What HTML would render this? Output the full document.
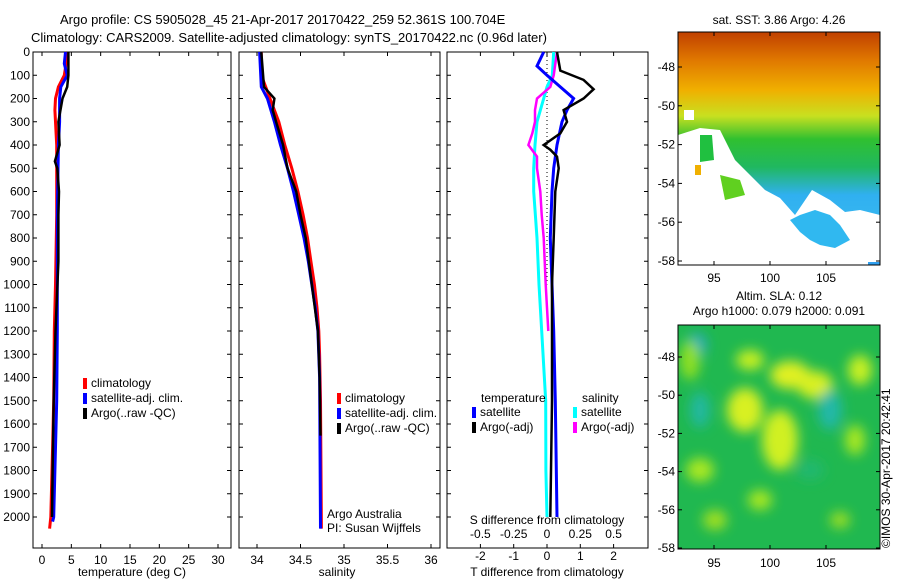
<!DOCTYPE html>
<html><head><meta charset="utf-8"><style>
body{margin:0;background:#fff}
svg{display:block;font-family:"Liberation Sans",sans-serif}
text{fill:#000}
</style></head><body>
<svg id="fig" width="900" height="580" viewBox="0 0 900 580">
<defs>
<linearGradient id="sstg" x1="0" y1="0" x2="0" y2="1">
<stop offset="0" stop-color="#c04000"/><stop offset="0.12" stop-color="#e07800"/><stop offset="0.25" stop-color="#f0b000"/>
<stop offset="0.36" stop-color="#c8e020"/><stop offset="0.46" stop-color="#30c030"/><stop offset="0.58" stop-color="#20b860"/>
<stop offset="0.7" stop-color="#30b0f0"/><stop offset="1" stop-color="#40c0f0"/></linearGradient>
<filter id="blur"><feGaussianBlur stdDeviation="6"/></filter>
<clipPath id="m2clip"><rect x="678" y="325" width="202" height="224"/></clipPath>
</defs>
<text x="60" y="24" font-size="13">Argo profile: CS 5905028_45 21-Apr-2017 20170422_259 52.361S 100.704E</text>
<text x="31" y="42" font-size="13">Climatology: CARS2009. Satellite-adjusted climatology: synTS_20170422.nc (0.96d later)</text>
<g id="p1"></g>
<g id="p2"></g>
<g id="p3"></g>
<g>
<text x="779" y="24" font-size="12" text-anchor="middle">sat. SST: 3.86 Argo: 4.26</text>
<rect x="678" y="32" width="202" height="233" fill="url(#sstg)"/>
<path d="M678 135 L700 128 L720 130 L735 160 L750 175 L765 190 L780 198 L795 215 L812 190 L830 200 L845 212 L860 210 L880 215 L880 265 L678 265 Z" fill="#fff"/>
<path d="M790 220 L800 215 L815 210 L830 215 L840 225 L850 240 L835 248 L820 245 L810 240 L800 232 Z" fill="#30b8f0"/>
<path d="M700 135 L712 135 L714 160 L700 162 Z" fill="#20c040"/>
<path d="M720 175 L740 180 L745 195 L725 200 Z" fill="#60d020"/>
<rect x="695" y="165" width="6" height="10" fill="#f0b000"/>
<rect x="684" y="110" width="10" height="10" fill="#fff"/>
<rect x="868" y="262" width="12" height="3" fill="#30a0f0"/>
</g>
<g>
<text x="779" y="300" font-size="12" text-anchor="middle">Altim. SLA: 0.12</text>
<text x="779" y="315" font-size="12" text-anchor="middle">Argo h1000: 0.079 h2000: 0.091</text>
<rect x="678" y="325" width="202" height="224" fill="#20b850"/>
<g clip-path="url(#m2clip)" filter="url(#blur)">
<ellipse cx="745" cy="410" rx="18" ry="22" fill="#d8f020"/><ellipse cx="790" cy="375" rx="20" ry="14" fill="#e0f020"/>
<ellipse cx="815" cy="385" rx="18" ry="14" fill="#d8f020"/><ellipse cx="780" cy="440" rx="18" ry="30" fill="#d0f020"/>
<ellipse cx="697" cy="345" rx="10" ry="12" fill="#20a8c0"/><ellipse cx="700" cy="410" rx="10" ry="18" fill="#20b8a0"/>
<ellipse cx="830" cy="410" rx="12" ry="20" fill="#20b8a8"/><ellipse cx="750" cy="360" rx="14" ry="10" fill="#c8f020"/>
<ellipse cx="700" cy="470" rx="14" ry="12" fill="#a8e820"/><ellipse cx="760" cy="500" rx="12" ry="10" fill="#a8e820"/>
<ellipse cx="855" cy="440" rx="10" ry="15" fill="#a8e820"/><ellipse cx="810" cy="470" rx="14" ry="10" fill="#20b870"/>
<ellipse cx="690" cy="360" rx="10" ry="20" fill="#90e020"/><ellipse cx="860" cy="370" rx="12" ry="15" fill="#c8f020"/>
<ellipse cx="715" cy="520" rx="12" ry="10" fill="#a0e020"/><ellipse cx="840" cy="520" rx="10" ry="8" fill="#a0e020"/>
</g>
</g>
<text transform="translate(890,548) rotate(-90)" font-size="12">©IMOS 30-Apr-2017 20:42:41</text>
<g id="maxes"></g>
</svg>
<script>
var NS='http://www.w3.org/2000/svg';
var depthTicks=[0,100,200,300,400,500,600,700,800,900,1000,1100,1200,1300,1400,1500,1600,1700,1800,1900,2000];
var tDepth=[0,50,100,150,200,250,300,400,500,700,1000,1200,1500,1700,1900,2000,2050];
var tClim=[4.2,4.1,3.8,2.8,2.3,2.2,2.3,2.5,2.5,2.5,2.3,2.1,2.0,1.8,1.6,1.5,1.3];
var tSatDepth=[0,50,100,150,200,300,400,700,1000,1200,1500,1800,2000,2020];
var tSat=[4.0,3.8,4.3,3.2,3.0,3.0,2.8,2.6,2.6,2.6,2.5,2.2,2.0,1.8];
var tArgoDepth=[0,100,150,200,300,400,470,500,600,700,900,1200,1500,1800,2000];
var tArgo=[4.5,4.5,4.3,3.5,2.8,3.0,2.2,2.6,2.9,2.8,2.8,2.3,2.0,1.8,1.7];
var tTicks=[0,5,10,15,20,25,30];
var sDepth=[0,100,150,200,300,400,500,600,700,800,900,1000,1100,1200,1300,1500,2050];
var sClim=[34.05,34.05,34.1,34.15,34.25,34.32,34.4,34.47,34.53,34.58,34.62,34.66,34.69,34.71,34.72,34.73,34.74];
var sSatDepth=[0,150,200,300,400,500,600,700,800,900,1000,1100,1200,1400,2050];
var sSat=[34.03,34.05,34.12,34.2,34.27,34.35,34.42,34.48,34.54,34.59,34.63,34.67,34.7,34.72,34.73];
var sArgoDepth=[0,150,200,250,300,400,500,600,700,800,1000,1200,1400,1650];
var sArgo=[34.05,34.08,34.2,34.18,34.22,34.3,34.35,34.45,34.5,34.56,34.63,34.7,34.72,34.73];
var sTicks=[34,34.5,35,35.5,36];
var dTDepth=[0,60,100,150,200,250,300,400,500,600,800,1000,1200,1500,2000];
var dTSat=[-0.1,-0.3,0,0.4,0.8,0.6,0.45,0.3,0.2,0.15,0.1,0.15,0.2,0.25,0.3];
var dTArgoDepth=[0,80,120,160,200,250,300,350,400,420,450,500,600,800,1000,1200,1500,1800,2000];
var dTArgo=[0.3,0.4,1.1,1.4,1.1,0.5,0.6,0.4,-0.1,0.1,0.3,0.35,0.25,0.2,0.15,0.15,0.15,0.12,0.1];
var dSSatDepth=[0,100,150,200,300,400,500,600,800,1000,1200,1500,1800,2000];
var dSSat=[0.05,0.04,0,-0.025,-0.075,-0.09,-0.1,-0.1,-0.075,-0.06,-0.04,-0.01,-0.008,0];
var dSArgoDepth=[0,100,150,200,250,300,350,400,450,500,600,700,800,1000,1100,1200];
var dSArgo=[0.075,0.05,0.025,-0.075,-0.09,-0.09,-0.11,-0.14,-0.075,-0.075,-0.05,-0.04,-0.025,-0.01,0,0.01];
var dTTicks=[-2,-1,0,1,2];
var dSTicks=[-0.5,-0.25,0,0.25,0.5];
var dSTickLabels=['-0.5','-0.25','0','0.25','0.5'];
var latTicks=[-48,-50,-52,-54,-56,-58];
var lonTicks=[95,100,105];

var TOP=52,BOT=548;
function yD(d){return TOP+d*(517-52)/2000;}
function mk(tag,attrs,parent){var e=document.createElementNS(NS,tag);for(var k in attrs){e.setAttribute(k,attrs[k]);}parent.appendChild(e);return e;}
function txt(parent,x,y,s,anchor,size){var t=mk('text',{x:x,y:y,'font-size':size||12,'text-anchor':anchor||'middle'},parent);t.textContent=s;return t;}
function drawLine(parent,xs,ds,xf,color,w,name){
  var p='';var n=Math.min(xs.length,ds.length);
  for(var i=0;i<n;i++){p+=(i?'L':'M')+xf(xs[i]).toFixed(1)+' '+yD(ds[i]).toFixed(1);}
  var e=mk('path',{d:p,fill:'none',stroke:color,'stroke-width':w},parent);
  
  
}
function frame(g,x0,x1,withDepthLabels){
  mk('rect',{x:x0,y:TOP,width:x1-x0,height:BOT-TOP,fill:'none',stroke:'#000','stroke-width':1},g);
  depthTicks.forEach(function(d){var y=yD(d);mk('line',{x1:x0,x2:x0+4,y1:y,y2:y,stroke:'#000'},g);mk('line',{x1:x1,x2:x1-4,y1:y,y2:y,stroke:'#000'},g);
    if(withDepthLabels){var t=txt(g,x0-3,y+4,String(d),'end');}});
}
function legend(g,x,y,items){items.forEach(function(it,i){mk('rect',{x:x,y:y+i*15-9,width:4,height:11,fill:it[0]},g);var t=txt(g,x+8,y+i*15,it[1],'start');});}
function safe(f){try{f();}catch(e){console.log(e);}}
function xT(v){return 42+v*(218-42)/30;}
function xS(v){return 257+(v-34)*87;}
function xDT(v){return 547+v*33.3;}
function xDS(v){return 547+v*133.2;}
var g1=document.getElementById('p1');
var g2=document.getElementById('p2');
var g3=document.getElementById('p3');
safe(function(){
frame(g1,33,231,true);
tTicks.forEach(function(v){var x=xT(v);mk('line',{x1:x,x2:x,y1:BOT,y2:BOT-4,stroke:'#000'},g1);mk('line',{x1:x,x2:x,y1:TOP,y2:TOP+4,stroke:'#000'},g1);var t=txt(g1,x,BOT+16,String(v));});
txt(g1,132,576,'temperature (deg C)');
drawLine(g1,tClim,tDepth,xT,'#f00',3,'temp-climatology-line');
drawLine(g1,tSat,tSatDepth,xT,'#00f',3,'temp-satellite-line');
drawLine(g1,tArgo,tArgoDepth,xT,'#000',2.5,'temp-argo-line');
legend(g1,83,387,[['#f00','climatology'],['#00f','satellite-adj. clim.'],['#000','Argo(..raw -QC)']]);
});
safe(function(){
frame(g2,239,440,false);
sTicks.forEach(function(v){var x=xS(v);mk('line',{x1:x,x2:x,y1:BOT,y2:BOT-4,stroke:'#000'},g2);mk('line',{x1:x,x2:x,y1:TOP,y2:TOP+4,stroke:'#000'},g2);var t=txt(g2,x,BOT+16,String(v));});
txt(g2,337,576,'salinity');
drawLine(g2,sClim,sDepth,xS,'#f00',3,'sal-climatology-line');
drawLine(g2,sSat,sSatDepth,xS,'#00f',3,'sal-satellite-line');
drawLine(g2,sArgo,sArgoDepth,xS,'#000',2.5,'sal-argo-line');
legend(g2,337,402,[['#f00','climatology'],['#00f','satellite-adj. clim.'],['#000','Argo(..raw -QC)']]);
txt(g2,327,518,'Argo Australia','start');
txt(g2,327,532,'PI: Susan Wijffels','start');
});
safe(function(){
frame(g3,447,648,false);
dTTicks.forEach(function(v){var x=xDT(v);mk('line',{x1:x,x2:x,y1:BOT,y2:BOT-4,stroke:'#000'},g3);mk('line',{x1:x,x2:x,y1:TOP,y2:TOP+4,stroke:'#000'},g3);var t=txt(g3,x,BOT+12,String(v));});
dSTicks.forEach(function(v,i){var t=txt(g3,xDS(v),538,dSTickLabels[i]);});
txt(g3,547,524,'S difference from climatology');
txt(g3,547,576,'T difference from climatology');
mk('line',{x1:xDT(0),x2:xDT(0),y1:TOP,y2:yD(1000),stroke:'#000','stroke-dasharray':'1,3'},g3);
});
safe(function(){drawLine(g3,dSSat.map(function(v){return v*4;}),dSSatDepth,xDT,'#0ff',3,'sdiff-satellite-line');});
safe(function(){drawLine(g3,dSArgo.map(function(v){return v*4;}),dSArgoDepth,xDT,'#f0f',2.5,'sdiff-argo-line');});
safe(function(){drawLine(g3,dTSat,dTDepth,xDT,'#00f',3,'tdiff-satellite-line');});
safe(function(){drawLine(g3,dTArgo,dTArgoDepth,xDT,'#000',2.5,'tdiff-argo-line');});
safe(function(){
txt(g3,481,402,'temperature','start');
txt(g3,582,402,'salinity','start');
legend(g3,472,416,[['#00f','satellite'],['#000','Argo(-adj)']]);
legend(g3,573,416,[['#0ff','satellite'],['#f0f','Argo(-adj)']]);
});
var ma=document.getElementById('maxes');
function mapAxes(x0,x1,y0,y1,lat0,latS,lab){
  mk('rect',{x:x0,y:y0,width:x1-x0,height:y1-y0,fill:'none',stroke:'#000'},ma);
  latTicks.forEach(function(l){var y=lat0+(-48-l)*latS;mk('line',{x1:x0,x2:x0+4,y1:y,y2:y,stroke:'#000'},ma);mk('line',{x1:x1,x2:x1-4,y1:y,y2:y,stroke:'#000'},ma);var t=txt(ma,x0-3,y+4,String(l),'end');});
  lonTicks.forEach(function(l){var x=714+(l-95)*11.2;mk('line',{x1:x,x2:x,y1:y1,y2:y1-4,stroke:'#000'},ma);mk('line',{x1:x,x2:x,y1:y0,y2:y0+4,stroke:'#000'},ma);var t=txt(ma,x,lab,String(l));});
}
safe(function(){mapAxes(678,880,32,265,67,19.4,282);});
safe(function(){mapAxes(678,880,325,549,357,19.1,567);});
</script>
</body></html>
